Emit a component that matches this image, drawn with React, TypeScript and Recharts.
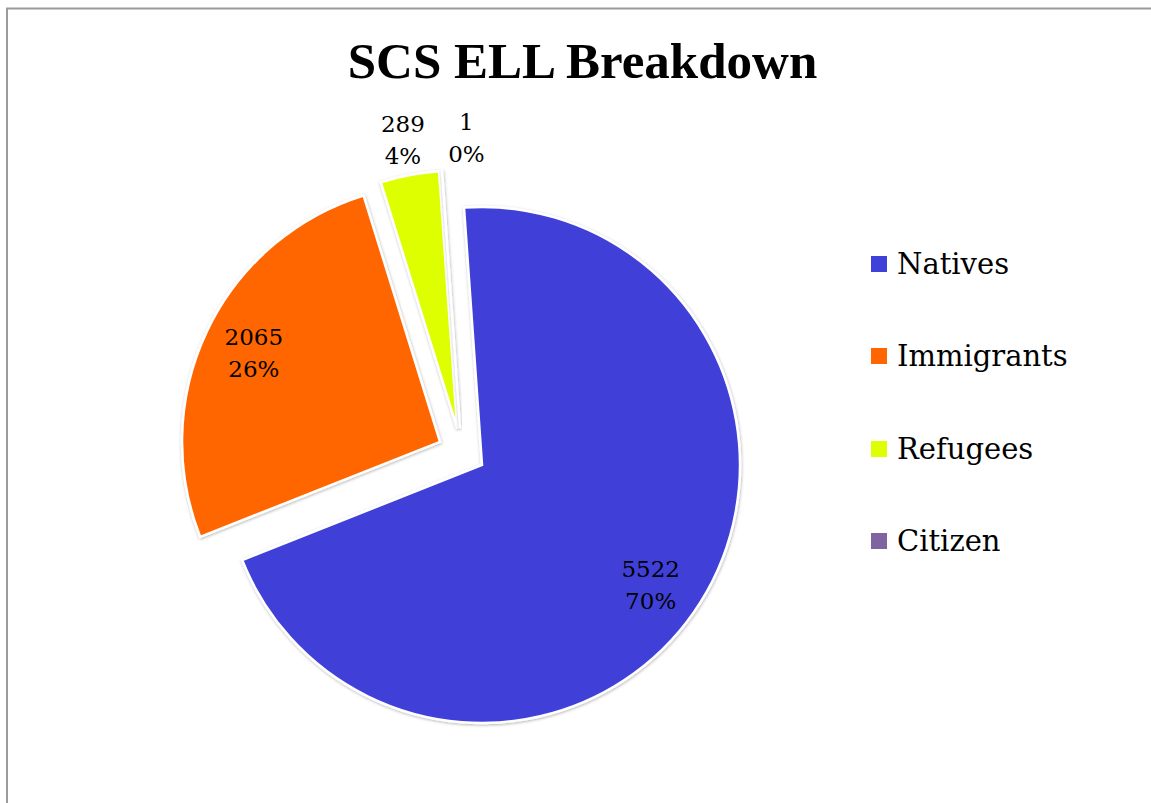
import React from 'react';
import { PieChart, Pie, Cell, Legend, Sector } from 'recharts';

const categories = ['Natives', 'Immigrants', 'Refugees', 'Citizen'];
const counts = [5522, 2065, 289, 1];
const colors = ['#4041D9', '#FF6600', '#DDFF00', '#8064A2'];

const data = categories.map((name, i) => ({ name, value: counts[i] }));

const RADIAN = Math.PI / 180;
const EXPLODE = 24;
// label tweaks so they land where Excel put them
const LABEL_NUDGE: Record<string, [number, number]> = { Natives: [-6, 10], Citizen: [27, 3] };

const ExplodedSector = (props: any) => {
  const { cx, cy, midAngle } = props;
  const dx = EXPLODE * Math.cos(-midAngle * RADIAN);
  const dy = EXPLODE * Math.sin(-midAngle * RADIAN);
  return <Sector {...props} cx={cx + dx} cy={cy + dy} filter="url(#sliceShadow)" />;
};

const renderLabel = (props: any) => {
  const { cx, cy, midAngle, outerRadius, percent, value, index } = props;
  const cos = Math.cos(-midAngle * RADIAN);
  const sin = Math.sin(-midAngle * RADIAN);
  const k = percent > 0.1 ? 0.8 : 1.14;
  const nudge = LABEL_NUDGE[categories[index]] || [0, 0];
  const x = cx + (EXPLODE + outerRadius * k) * cos + nudge[0];
  const y = cy + (EXPLODE + outerRadius * k) * sin + nudge[1];
  return (
    <text x={x} y={y} textAnchor="middle" fontFamily="'DejaVu Serif'" fontSize={23} fill="#000">
      <tspan x={x} y={y - 16} dominantBaseline="central">{value}</tspan>
      <tspan x={x} y={y + 16} dominantBaseline="central">{Math.round(percent * 100)}%</tspan>
    </text>
  );
};

const renderLegend = (props: any) => {
  const payload = props.payload || [];
  return (
    <div style={{ fontFamily: "'DejaVu Serif'", fontSize: 29, color: '#000' }}>
      {categories.map((name, i) => {
        const entry = payload.find((p: any) => p.value === name);
        return (
          <div key={name} style={{ height: 92.3, display: 'flex', alignItems: 'center' }}>
            <span style={{ display: 'inline-block', width: 16, height: 16, background: entry?.color || colors[i], marginRight: 10 }} />
            <span>{name}</span>
          </div>
        );
      })}
    </div>
  );
};

export default function App() {
  return (
    <div style={{ position: 'fixed', left: 0, top: 0, width: 1151, height: 803, overflow: 'hidden', background: '#fff' }}>
      <svg width={1151} height={803} style={{ position: 'absolute', left: 0, top: 0 }}>
        <defs>
          <filter id="sliceShadow" x="-10%" y="-10%" width="120%" height="120%">
            <feDropShadow dx={0.5} dy={1} stdDeviation={1.4} floodColor="#000" floodOpacity={0.3} />
          </filter>
        </defs>
        <path d="M7,803 V8.5 H1151" fill="none" stroke="#9b9b9b" strokeWidth={2} />
      </svg>
      <div
        style={{
          position: 'absolute', left: 0, top: 36, width: 1165, textAlign: 'center',
          fontFamily: "'Liberation Serif'", fontWeight: 'bold', fontSize: 51, lineHeight: '51px', color: '#000',
        }}
      >
        SCS ELL Breakdown
      </div>
      <div style={{ position: 'absolute', left: 0, top: 0 }}>
        <PieChart width={1151} height={803} margin={{ top: 0, right: 0, bottom: 0, left: 0 }}>
          <Pie
            data={data}
            dataKey="value"
            nameKey="name"
            cx={461.7}
            cy={452.2}
            outerRadius={258}
            startAngle={94}
            endAngle={-266}
            stroke="#fff"
            strokeWidth={2.5}
            shape={ExplodedSector}
            label={renderLabel}
            labelLine={false}
            isAnimationActive={false}
          >
            {data.map((d, i) => (
              <Cell key={d.name} fill={colors[i]} />
            ))}
          </Pie>
          <Legend
            layout="vertical"
            content={renderLegend}
            wrapperStyle={{ left: 871, top: 218, width: 270 }}
          />
        </PieChart>
      </div>
    </div>
  );
}
